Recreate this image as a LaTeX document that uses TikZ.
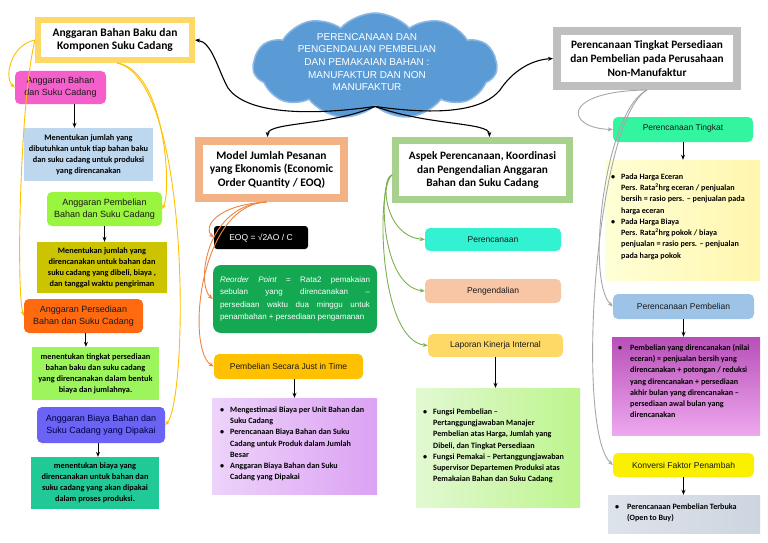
\documentclass[tikz,border=0pt]{standalone}
\usepackage{fontspec}
\setmainfont{Carlito}
\newfontfamily\arialf{Liberation Sans}
\usetikzlibrary{shapes.symbols,arrows.meta,calc}
\definecolor{cGold}{HTML}{FFD966}
\definecolor{cAmber}{HTML}{FFC000}
\definecolor{cPink}{HTML}{F45FCB}
\definecolor{cLBlue}{HTML}{BDD7EE}
\definecolor{cLime}{HTML}{99F53D}
\definecolor{cOlive}{HTML}{CCC400}
\definecolor{cOrange}{HTML}{FF6A10}
\definecolor{cLGreen}{HTML}{9CF55C}
\definecolor{cPurBlue}{HTML}{6B63F5}
\definecolor{cTeal}{HTML}{20C997}
\definecolor{cCloud}{HTML}{5B9BD5}
\definecolor{cCloudEdge}{HTML}{8DB8E4}
\definecolor{cSalmon}{HTML}{F4B183}
\definecolor{cDGreen}{HTML}{14A853}
\definecolor{cLavA}{HTML}{EDD3FA}
\definecolor{cLavB}{HTML}{DCA2F3}
\definecolor{cSage}{HTML}{A9D18E}
\definecolor{cCyan}{HTML}{33F2D2}
\definecolor{cPeach}{HTML}{F9C6A5}
\definecolor{cMintA}{HTML}{E2F8D2}
\definecolor{cMintB}{HTML}{BDF58D}
\definecolor{cGray}{HTML}{BFBFBF}
\definecolor{cSpring}{HTML}{33F5A0}
\definecolor{cCreamA}{HTML}{FFFFD6}
\definecolor{cCreamB}{HTML}{FFF6AE}
\definecolor{cSky}{HTML}{9DC3E6}
\definecolor{cMagA}{HTML}{B84FB8}
\definecolor{cMagB}{HTML}{EEA8EE}
\definecolor{cYellow}{HTML}{FAF000}
\definecolor{cSteelA}{HTML}{DDE3EA}
\definecolor{cSteelB}{HTML}{CDD5E0}
\definecolor{cOrLine}{HTML}{EE8440}
\definecolor{cGrLine}{HTML}{7BB14E}
\definecolor{cGyLine}{HTML}{A6A6A6}
\newcommand\fTitle{\fontsize{11.5}{13.5}\selectfont\bfseries}
\newcommand\fTitleS{\fontsize{11.3}{13.7}\selectfont\bfseries}
\newcommand\fLab{\arialf\fontsize{9}{12}\selectfont}
\newcommand\fLabS{\arialf\fontsize{8.5}{11}\selectfont}
\newcommand\fBody{\fontsize{8.3}{11}\selectfont\bfseries}
\newcommand\fBul{\fontsize{8.1}{11.3}\selectfont\bfseries}
\newcommand\fCloud{\arialf\fontsize{10}{12.7}\selectfont}
\begin{document}
\begin{tikzpicture}[x=1pt,y=-1pt,
  fbox/.style={fill=white, inner sep=0pt, align=center},
  lbl/.style={rounded corners=5pt, inner sep=0pt, align=center, font=\fLab, text=black!90},
  lbls/.style={rounded corners=5pt, inner sep=0pt, align=center, font=\fLabS, text=black!90},
  bodyb/.style={inner sep=0pt, align=center, font=\fBody},
  panel/.style={inner sep=0pt},
  bul/.style={anchor=north west, inner sep=0pt, font=\fBul, align=left},
  arr/.style={-{Stealth[length=5pt,width=4pt]}, line width=0.9pt, black},
  carr/.style={-{Stealth[length=5pt,width=4pt]}, line width=0.9pt},
]
\useasboundingbox (0,0) rectangle (768,543);
\fill[white] (0,0) rectangle (768,543);

% ---- cloud ----
\node[cloud, cloud puffs=11, cloud puff arc=95, cloud ignores aspect, fill=cCloud, draw=cCloudEdge, line width=1.5pt, minimum width=244pt, minimum height=106pt, inner sep=0pt] (cloud) at (375,66) {};
\node[text=white, font=\fCloud, align=center, inner sep=0pt] (ctext) at (367,62) {PERENCANAAN DAN\\PENGENDALIAN PEMBELIAN\\DAN PEMAKAIAN BAHAN :\\MANUFAKTUR DAN NON\\MANUFAKTUR};

% ---- left column ----
\node[fbox, draw=cGold, line width=6pt, minimum width=154pt, minimum height=40pt, font=\fTitle] (A) at (115,40) {Anggaran Bahan Baku dan\\Komponen Suku Cadang};
\node[lbl, fill=cPink, minimum width=91pt, minimum height=33pt] (B) at (60.5,87.5) {Anggaran Bahan\\dan Suku Cadang};
\node[bodyb, fill=cLBlue, minimum width=129pt, minimum height=53pt] (C) at (88.5,154.5) {Menentukan jumlah yang\\dibutuhkan untuk tiap bahan baku\\dan suku cadang untuk produksi\\yang direncanakan};
\node[lbl, fill=cLime, minimum width=115pt, minimum height=34pt] (D) at (104.5,209) {Anggaran Pembelian\\Bahan dan Suku Cadang};
\node[bodyb, fill=cOlive, minimum width=130pt, minimum height=51pt] (E) at (102,267.5) {Menentukan jumlah yang\\direncanakan untuk bahan dan\\suku cadang yang dibeli, biaya ,\\dan tanggal waktu pengiriman};
\node[lbl, fill=cOrange, minimum width=119pt, minimum height=34pt] (F) at (83.5,316) {Anggaran Persediaan\\Bahan dan Suku Cadang};
\node[bodyb, fill=cLGreen, minimum width=127pt, minimum height=53pt] (G) at (95.5,373.5) {menentukan tingkat persediaan\\bahan baku dan suku cadang\\yang direncanakan dalam bentuk\\biaya dan jumlahnya.};
\node[lbl, fill=cPurBlue, minimum width=128pt, minimum height=36pt, text=blue!25!black] (H) at (101,425) {Anggaran Biaya Bahan dan\\Suku Cadang yang Dipakai};
\node[bodyb, fill=cTeal, minimum width=128pt, minimum height=52pt] (I) at (95,483) {menentukan biaya yang\\direncanakan untuk bahan dan\\suku cadang yang akan dipakai\\dalam proses produksi.};

% ---- middle column ----
\node[fbox, draw=cSalmon, line width=8pt, minimum width=145pt, minimum height=57pt, font=\fTitle] (J) at (271.5,169.5) {Model Jumlah Pesanan\\yang Ekonomis (Economic\\Order Quantity / EOQ)};
\node[lbls, fill=black, rounded corners=3pt, text=white, minimum width=94pt, minimum height=23pt] (K) at (261,237.5) {EOQ = √2AO / C};
\node[inner sep=0pt, fill=cDGreen, rounded corners=8pt, minimum width=164pt, minimum height=68pt, text width=150pt, align=justify, text=white, font=\arialf\fontsize{8}{12.5}\selectfont] (L) at (295,299) {\textit{Reorder Point} = Rata2 pemakaian\linebreak sebulan yang direncanakan –\linebreak persediaan waktu dua minggu untuk\linebreak penambahan + persediaan pengamanan};
\node[lbls, fill=cAmber, minimum width=149pt, minimum height=25pt] (M) at (288.5,366.5) {Pembelian Secara Just in Time};
\node[panel, left color=cLavA, right color=cLavB, minimum width=165pt, minimum height=96pt] (N) at (294.5,446) {};
\node[bul] (Nt) at (220,404) {\begin{tabular}{@{}p{10pt}@{}l@{}}
\textbullet & Mengestimasi Biaya per Unit Bahan dan\\
 & Suku Cadang\\
\textbullet & Perencanaan Biaya Bahan dan Suku\\
 & Cadang untuk Produk dalam Jumlah\\
 & Besar\\
\textbullet & Anggaran Biaya Bahan dan Suku\\
 & Cadang yang Dipakai
\end{tabular}};

% ---- centre-right column ----
\node[fbox, draw=cSage, line width=7pt, minimum width=174pt, minimum height=59pt, font=\fTitleS] (O) at (482.5,170) {Aspek Perencanaan, Koordinasi\\dan Pengendalian Anggaran\\Bahan dan Suku Cadang};
\node[lbls, fill=cCyan, minimum width=136pt, minimum height=23pt] (P) at (493,239.5) {Perencanaan};
\node[lbls, fill=cPeach, minimum width=136pt, minimum height=24pt] (Q) at (493,291) {Pengendalian};
\node[lbls, fill=cGold, minimum width=135pt, minimum height=23pt] (R) at (495.5,345.5) {Laporan Kinerja Internal};
\node[panel, left color=cMintA, right color=cMintB, minimum width=164pt, minimum height=119pt] (S) at (498,447.5) {};
\node[bul] (St) at (423,406) {\begin{tabular}{@{}p{10pt}@{}l@{}}
\textbullet & Fungsi Pembelian –\\
 & Pertanggungjawaban Manajer\\
 & Pembelian atas Harga, Jumlah yang\\
 & Dibeli, dan Tingkat Persediaan\\
\textbullet & Fungsi Pemakai – Pertanggungjawaban\\
 & Supervisor Departemen Produksi atas\\
 & Pemakaian Bahan dan Suku Cadang
\end{tabular}};

% ---- right column ----
\node[fbox, draw=cGray, line width=8pt, minimum width=180pt, minimum height=55pt, font=\fTitleS] (T) at (647,58.5) {Perencanaan Tingkat Persediaan\\dan Pembelian pada Perusahaan\\Non-Manufaktur};
\node[lbls, fill=cSpring, minimum width=140pt, minimum height=25pt, text depth=4pt] (U) at (683,129.5) {Perencanaan Tingkat};
\node[panel, left color=cCreamA, right color=cCreamB, minimum width=155pt, minimum height=120pt] (V) at (682.5,220) {};
\node[bul] (Vt) at (611,171) {\begin{tabular}{@{}p{10pt}@{}l@{}}
\textbullet & Pada Harga Eceran\\
 & Pers. Rata\textsuperscript{2}hrg eceran / penjualan\\
 & bersih = rasio pers. – penjualan pada\\
 & harga eceran\\
\textbullet & Pada Harga Biaya\\
 & Pers. Rata\textsuperscript{2}hrg pokok / biaya\\
 & penjualan = rasio pers. – penjualan\\
 & pada harga pokok
\end{tabular}};
\node[lbls, fill=cSky, minimum width=141pt, minimum height=25pt] (W) at (683.5,306.5) {Perencanaan Pembelian};
\node[panel, top color=cMagA, bottom color=cMagB, minimum width=148pt, minimum height=98pt] (X) at (686,386) {};
\node[bul] (Xt) at (618,342) {\begin{tabular}{@{}p{12pt}@{}l@{}}
\textbullet & Pembelian yang direncanakan (nilai\\
 & eceran) = penjualan bersih yang\\
 & direncanakan + potongan / reduksi\\
 & yang direncanakan + persediaan\\
 & akhir bulan yang direncanakan –\\
 & persediaan awal bulan yang\\
 & direncanakan
\end{tabular}};
\node[lbls, fill=cYellow, minimum width=141pt, minimum height=24pt] (Y) at (683.5,465) {Konversi Faktor Penambah};
\node[panel, left color=cSteelA, right color=cSteelB, minimum width=152pt, minimum height=38pt] (Z) at (684,514) {};
\node[bul] (Zt) at (615,501) {\begin{tabular}{@{}p{12pt}@{}l@{}}
\textbullet & Perencanaan Pembelian Terbuka\\
 & (Open to Buy)
\end{tabular}};

% ---- short black arrows ----
\coordinate (bc) at ($(B.south)!.5!(C.north)$);
\draw[arr] (bc |- B.south) -- (bc |- C.north);
\draw[arr] (D.south) -- (D.south |- E.north);
\coordinate (fg) at ($(F.south)!.2!(G.north)$);
\draw[arr] (fg |- F.south) -- (fg |- G.north);
\coordinate (hi) at ($(H.south)!.5!(I.north)$);
\draw[arr] (hi |- H.south) -- (hi |- I.north);
\draw[arr] (N.north |- M.south) -- (N.north);
\draw[arr] (R.south) -- (R.south |- S.north);
\draw[arr] (U.south) -- (U.south |- V.north);
\draw[arr] (W.south) -- (W.south |- X.north);
\draw[arr] (Y.south) -- (Y.south |- Z.north);

% ---- connectors from the cloud ----
\draw[carr, line width=1.1pt] (cloud.south) .. controls (300,117) and (245,112) .. (228,88) .. controls (218,70) and (212,42) .. (A.east);
\draw[carr, line width=1.1pt] (cloud.south) .. controls (450,117) and (485,108) .. (500,90) .. controls (512,72) and (530,60) .. (T.west);
\draw[carr, line width=1.1pt] (cloud.south) .. controls (330,126) and (268,122) .. ($(J.north)+(-4,0)$);
\draw[carr, line width=1.1pt] (cloud.south) .. controls (430,126) and (489,122) .. ($(O.north)+(7,0)$);

% ---- yellow connectors ----
\draw[carr, cAmber] (A.west) .. controls (10,45) and (4,78) .. (B.west);
\draw[carr, cAmber] (A.west) .. controls (20,100) and (16,290) .. (F.west);
\draw[carr, cAmber] ($(A.south)+(2,0)$) .. controls (165,70) and (172,190) .. (D.east);
\draw[carr, cAmber] ($(A.south)+(2,0)$) .. controls (192,80) and (188,400) .. (H.east);

% ---- orange connectors ----
\draw[carr, cOrLine] ($(J.south)+(-5,0)$) .. controls (215,205) and (203,228) .. (K.west);
\draw[carr, cOrLine] ($(J.south)+(-5,0)$) .. controls (205,205) and (196,285) .. (L.west);
\draw[carr, cOrLine] ($(J.south)+(-5,0)$) .. controls (198,205) and (186,350) .. (M.west);

% ---- green connectors ----
\draw[carr, cGrLine] ($(O.west)+(0,5)$) .. controls (380,178) and (384,236) .. (P.west);
\draw[carr, cGrLine] ($(O.west)+(0,5)$) .. controls (378,182) and (380,286) .. (Q.west);
\draw[carr, cGrLine] ($(O.west)+(0,5)$) .. controls (376,186) and (378,340) .. (R.west);

% ---- gray connectors ----
\draw[carr, cGyLine] (T.south) .. controls (560,91) and (565,128) .. (U.west);
\draw[carr, cGyLine] (T.south) .. controls (605,110) and (585,280) .. (W.west);
\draw[carr, cGyLine] (T.south) .. controls (595,120) and (575,430) .. (Y.west);
\end{tikzpicture}
\end{document}
